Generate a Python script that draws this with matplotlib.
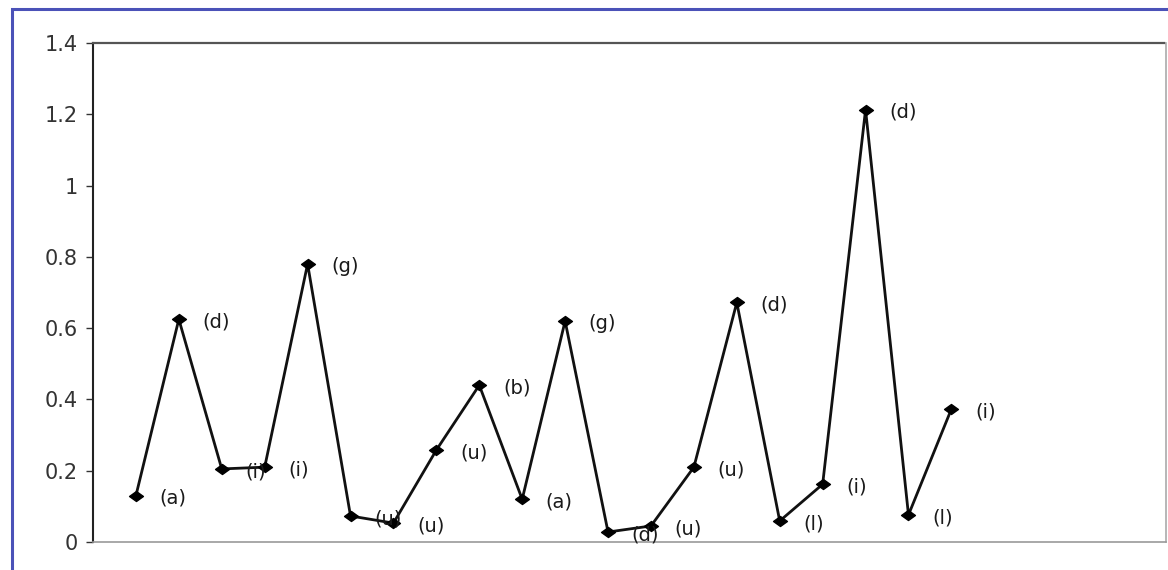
import matplotlib
matplotlib.use('Agg')
import matplotlib.pyplot as plt
from matplotlib.patches import Rectangle
from matplotlib.path import Path

plt.rcParams['font.family'] = ['DejaVu Sans']

# sequence position, measured value and class tag of each sample
positions = list(range(1, 21))
values = [0.13, 0.625, 0.205, 0.21, 0.78, 0.073, 0.053, 0.258, 0.44, 0.12,
          0.62, 0.028, 0.045, 0.21, 0.672, 0.059, 0.162, 1.213, 0.076, 0.373]
tags = ['(a)', '(d)', '(i)', '(i)', '(g)', '(u)', '(u)', '(u)', '(b)', '(a)',
        '(g)', '(d)', '(u)', '(u)', '(d)', '(l)', '(i)', '(d)', '(l)', '(i)']
y_ticks = [0, 0.2, 0.4, 0.6, 0.8, 1, 1.2, 1.4]
y_tick_labels = ['0', '0.2', '0.4', '0.6', '0.8', '1', '1.2', '1.4']

# flattened diamond marker, a bit wider than tall
wide_diamond = Path([(-1, 0), (0, 0.72), (1, 0), (0, -0.72), (-1, 0)],
                    [Path.MOVETO, Path.LINETO, Path.LINETO, Path.LINETO, Path.CLOSEPOLY])

fig = plt.figure(figsize=(11.68, 5.70), dpi=100)
ax = fig.add_axes([93 / 1168, 1 - 542 / 570, (1166 - 93) / 1168, (542 - 43) / 570])

ax.plot(positions, values, color='#111111', linewidth=2.0,
        marker=wide_diamond, markersize=10, markerfacecolor='black', markeredgecolor='black')

for x, y, t in zip(positions, values, tags):
    ax.annotate(t, (x, y), xytext=(17, -2), textcoords='offset points',
                ha='left', va='center', fontsize=14, color='#1a1a1a')

ax.set_xlim(0, 25)
ax.set_ylim(0, 1.4)
ax.set_yticks(y_ticks)
ax.set_yticklabels(y_tick_labels, fontsize=15, color='#222222')
ax.set_xticks([])
ax.tick_params(axis='y', direction='out', length=5, width=1, pad=6, colors='#333333')

ax.spines['left'].set_color('#222222')
ax.spines['left'].set_linewidth(1.5)
ax.spines['top'].set_color('#555555')
ax.spines['top'].set_linewidth(1.6)
ax.spines['top'].set_linestyle((0, (6, 1)))
ax.spines['bottom'].set_color('#999999')
ax.spines['bottom'].set_linewidth(1.2)
ax.spines['right'].set_color('#aaaaaa')
ax.spines['right'].set_linewidth(1.2)

# blue outer frame
fig.patches.append(Rectangle((11.5 / 1168, -0.1), 1.2, 1 - 8.5 / 570 + 0.1,
                             transform=fig.transFigure, fill=False,
                             edgecolor='#4b52b8', linewidth=2.2))

fig.savefig('out.png', dpi=100)
